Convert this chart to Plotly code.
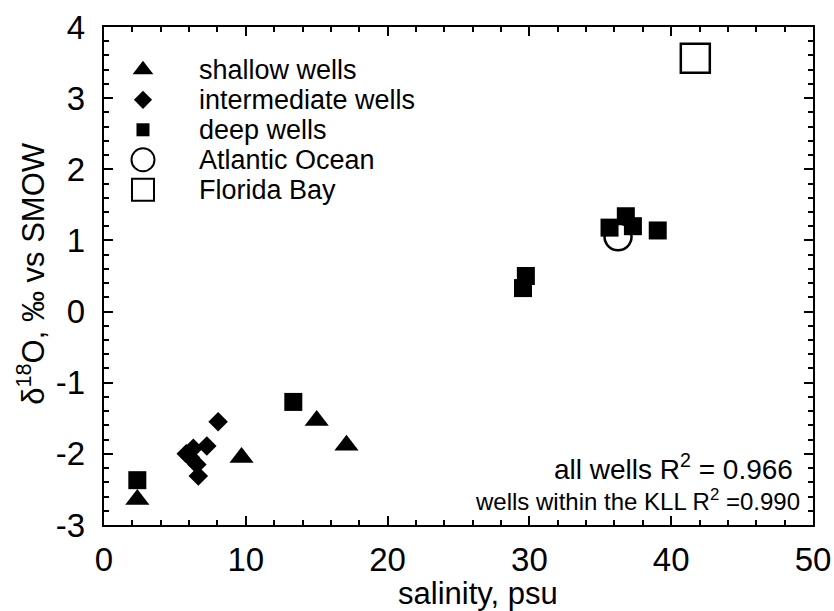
import plotly.graph_objects as go

# Salinity (psu) and delta-18O (permil vs SMOW) by sample group
shallow_sal = [2.35, 9.7, 15.0, 17.1]
shallow_d18o = [-2.64, -2.05, -1.53, -1.88]

inter_sal = [5.8, 6.3, 6.1, 6.55, 6.65, 7.25, 8.05]
inter_d18o = [-2.0, -1.92, -2.05, -2.15, -2.31, -1.89, -1.55]

deep_sal = [2.35, 13.35, 29.55, 29.75, 35.65, 36.8, 37.3, 39.05]
deep_d18o = [-2.37, -1.27, 0.33, 0.5, 1.18, 1.34, 1.2, 1.14]

atlantic_sal = [36.25]
atlantic_d18o = [1.05]

florida_sal = [41.7]
florida_d18o = [3.56]

x_range = [0, 50]
y_range = [-3, 4]
x_ticks = [0, 10, 20, 30, 40, 50]
x_labels = ["0", "10", "20", "30", "40", "50"]
y_ticks = [-3, -2, -1, 0, 1, 2, 3, 4]
y_labels = ["-3", "-2", "-1", "0", "1", "2", "3", "4"]

legend_names = ["shallow wells", "intermediate wells", "deep wells",
                "Atlantic Ocean", "Florida Bay"]

FONT = "Liberation Sans, Arial, Helvetica, sans-serif"
INK = "black"


def frac_x(f):
    return x_range[0] + f * (x_range[1] - x_range[0])


def frac_y(f):
    return y_range[0] + f * (y_range[1] - y_range[0])


fig = go.Figure()

# Atlantic Ocean first so the deep-well squares sit on top of it
fig.add_trace(go.Scatter(
    x=atlantic_sal, y=atlantic_d18o, mode="markers",
    marker=dict(symbol="circle", size=27, color="white",
                line=dict(color=INK, width=2.5))))
fig.add_trace(go.Scatter(
    x=florida_sal, y=florida_d18o, mode="markers",
    marker=dict(symbol="square", size=29, color="white",
                line=dict(color=INK, width=2.5))))
fig.add_trace(go.Scatter(
    x=shallow_sal, y=shallow_d18o, mode="markers",
    marker=dict(symbol="triangle-up", size=21, color=INK, line=dict(width=0))))
fig.add_trace(go.Scatter(
    x=inter_sal, y=inter_d18o, mode="markers",
    marker=dict(symbol="diamond", size=15, color=INK, line=dict(width=0))))
fig.add_trace(go.Scatter(
    x=deep_sal, y=deep_d18o, mode="markers",
    marker=dict(symbol="square", size=18, color=INK, line=dict(width=0))))

# Key drawn inside the plot area
key_x = 0.055
key_text_x = 0.131
key_top = 0.914
key_step = 0.0602
key_styles = [
    dict(symbol="triangle-up", size=18, color=INK, line=dict(width=0)),
    dict(symbol="diamond", size=14, color=INK, line=dict(width=0)),
    dict(symbol="square", size=13, color=INK, line=dict(width=0)),
    dict(symbol="circle", size=23, color="white", line=dict(color=INK, width=2)),
    dict(symbol="square", size=22, color="white", line=dict(color=INK, width=2)),
]
for i, (name, style) in enumerate(zip(legend_names, key_styles)):
    yy = key_top - i * key_step
    fig.add_trace(go.Scatter(
        x=[frac_x(key_x)], y=[frac_y(yy)], mode="markers", marker=style,
        hoverinfo="skip"))
    fig.add_annotation(
        x=key_text_x, y=yy, xref="paper", yref="paper", text=name,
        showarrow=False, xanchor="left", yanchor="middle",
        font=dict(family=FONT, size=27, color=INK))

# Regression notes
fig.add_annotation(
    x=0.975, y=0.117, xref="paper", yref="paper",
    text="all wells R<sup>2</sup> = 0.966", showarrow=False,
    xanchor="right", yanchor="middle", font=dict(family=FONT, size=28, color=INK))
fig.add_annotation(
    x=0.985, y=0.05, xref="paper", yref="paper",
    text="wells within the KLL R<sup>2</sup> =0.990", showarrow=False,
    xanchor="right", yanchor="middle", font=dict(family=FONT, size=24, color=INK))

# Axis titles
fig.add_annotation(
    x=0.527, y=-0.137, xref="paper", yref="paper", text="salinity, psu",
    showarrow=False, xanchor="center", yanchor="middle",
    font=dict(family=FONT, size=31, color=INK))
fig.add_annotation(
    x=-0.104, y=0.505, xref="paper", yref="paper",
    text="δ<sup>18</sup>O, ‰ vs SMOW", textangle=-90,
    showarrow=False, xanchor="center", yanchor="middle",
    font=dict(family=FONT, size=31, color=INK))

# Framed axes with inward major and minor ticks on all four sides
axis_common = dict(
    showline=True, linecolor=INK, linewidth=2.4, mirror="allticks",
    ticks="inside", ticklen=9, tickwidth=2.4, tickcolor=INK,
    showgrid=False, zeroline=False, layer="above traces", automargin=False,
    tickfont=dict(family=FONT, size=33, color=INK),
)

fig.update_layout(
    template="none",
    width=834, height=611,
    margin=dict(l=104, r=21, t=27, b=86, autoexpand=False),
    paper_bgcolor="white", plot_bgcolor="white",
    xaxis=dict(range=x_range, tickmode="array", tickvals=x_ticks,
               ticktext=x_labels, ticklabelstandoff=4,
               minor=dict(dtick=2, ticks="inside", ticklen=5,
                          tickwidth=2, tickcolor=INK, showgrid=False),
               **axis_common),
    yaxis=dict(range=y_range, tickmode="array", tickvals=y_ticks,
               ticktext=y_labels, ticklabelstandoff=10,
               minor=dict(dtick=0.2, ticks="inside", ticklen=5,
                          tickwidth=2, tickcolor=INK, showgrid=False),
               **axis_common),
    showlegend=False,
)

fig.write_html("out.html")
